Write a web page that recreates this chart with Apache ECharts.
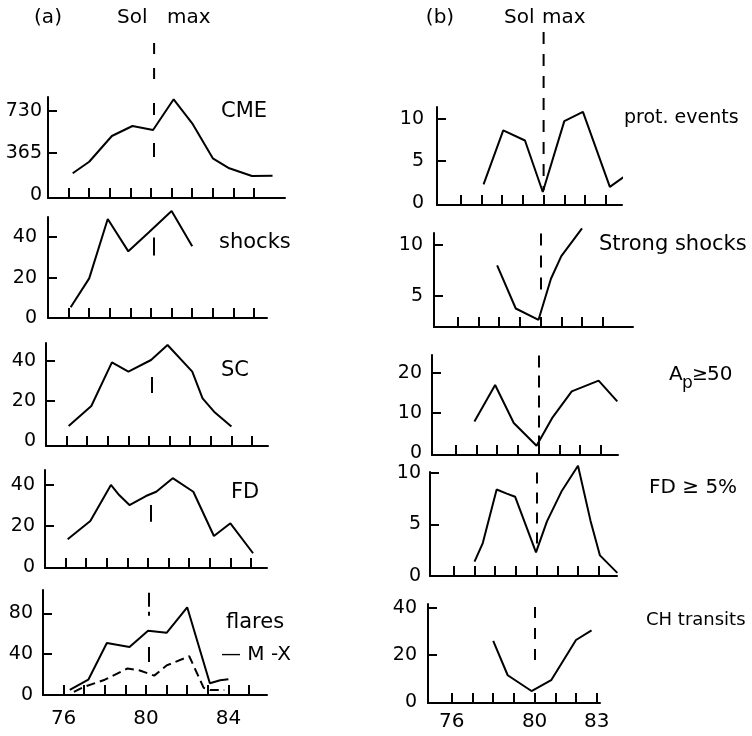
<!DOCTYPE html>
<html><head><meta charset="utf-8">
<script src="https://cdn.jsdelivr.net/npm/echarts@6/dist/echarts.min.js"></script>
<style>html,body{margin:0;padding:0;background:#fff}#c{width:752px;height:736px}</style>
</head><body><div id="c"></div>
<script>
// ---------- data (years, values) ----------
const cmeYears    = [76.2, 77.0, 78.1, 79.1, 80.1, 81.1, 82.0, 83.0, 83.8, 84.9, 85.9];
const cmeValues   = [189, 289, 513, 600, 565, 832, 623, 319, 232, 165, 168];
const shockYears  = [76.1, 77.0, 77.9, 78.9, 79.9, 81.0, 82.0];
const shockValues = [5.3, 19.6, 49, 33, 42.5, 53, 35.5];
const scYears     = [76.1, 77.2, 78.2, 79.0, 80.1, 80.9, 82.1, 82.6, 83.2, 84.0];
const scValues    = [7.5, 17.5, 39.3, 34.7, 40.5, 48, 34.7, 21.3, 14.2, 7.2];
const fdYears     = [76.1, 77.2, 78.2, 78.6, 79.1, 79.9, 80.4, 81.2, 82.2, 83.2, 84.0, 85.1];
const fdValues    = [13.5, 22.4, 40, 35.1, 30.2, 34.6, 36.7, 43.3, 36.7, 15.1, 21.3, 6.7];
const flareMYears  = [76.3, 77.2, 78.1, 79.2, 80.1, 81.0, 82.0, 83.1, 83.6, 84.0];
const flareMValues = [5, 15, 51, 47, 63, 61, 86, 11.5, 14.5, 15.5];
const flareXYears  = [76.5, 77.0, 78.0, 79.1, 79.7, 80.4, 81.0, 82.1, 82.8, 83.1, 83.8];
const flareXValues = [3, 8, 15, 26, 24, 19, 29, 38, 7, 5, 5];

const protYears    = [77.1, 78.05, 79.1, 79.96, 81.0, 81.9, 83.2, 84.0];
const protValues   = [2.2, 8.6, 7.4, 1.3, 9.7, 10.8, 1.9, 3.3];
const strongYears  = [77.9, 78.8, 79.9, 80.5, 81.0, 82.0];
const strongValues = [8.0, 3.8, 2.7, 6.7, 8.9, 11.6];
const apYears      = [76.9, 77.9, 78.8, 79.9, 80.65, 81.6, 82.9, 83.8];
const apValues     = [7.8, 16.9, 7.4, 1.7, 8.6, 15.3, 18.0, 12.8];
const fd5Years     = [77.0, 77.4, 78.07, 78.56, 78.96, 79.97, 80.5, 81.2, 82.0, 82.6, 83.06, 83.9];
const fd5Values    = [1.4, 3.2, 8.4, 8.0, 7.7, 2.3, 5.3, 8.2, 10.7, 5.4, 2.0, 0.3];
const chYears      = [78.0, 78.7, 79.85, 80.8, 82.0, 82.75];
const chValues     = [26, 11.4, 4.7, 9.3, 26.4, 30.5];

// tick positions / labels
const xTicksLeft   = [76, 77, 78, 79, 80, 81, 82, 83, 84, 85];
const xTicksRight  = [76, 77, 78, 79, 80, 81, 82, 83];
const xLabelsLeft  = [76, 80, 84];
const xLabelsRight = [76, 80, 83];
const solMaxLeft  = 80.15;
const solMaxRight = 80;

// ---------- layout ----------
const FONT = 'DejaVu Sans';
const panels = [
  {left:48, top:97, right:285, bottom:198, xMin:75, ppy:20.6, yMin:-26, yMax:852, yTicks:[365,730], yLabels:[0,365,730], lm:6,
   lines:[{x:cmeYears, y:cmeValues}], xTicks:xTicksLeft, sol:solMaxLeft, solSegs:[[799,695],[452,330]], solDash:'solid'},
  {left:48, top:217, right:267, bottom:318, xMin:75, ppy:20.6, yMin:0, yMax:50, yTicks:[20,40], yLabels:[0,20,40], lm:11,
   lines:[{x:shockYears, y:shockValues}], xTicks:xTicksLeft, sol:solMaxLeft, solSegs:[[39.9,31]], solDash:'solid'},
  {left:46, top:343, right:268, bottom:446, xMin:75, ppy:20.6, yMin:-2.5, yMax:49, yTicks:[20,40], yLabels:[0,20,40], lm:10,
   lines:[{x:scYears, y:scValues}], xTicks:xTicksLeft, sol:solMaxLeft, solSegs:[[32,24]], solDash:'solid'},
  {left:45, top:470, right:267, bottom:568, xMin:75, ppy:20.6, yMin:-0.5, yMax:47.3, yTicks:[20,40], yLabels:[0,20,40], lm:10,
   lines:[{x:fdYears, y:fdValues}], xTicks:xTicksLeft, sol:solMaxLeft, solSegs:[[30.2,22]], solDash:'solid'},
  {left:43, top:590, right:267, bottom:695, xMin:75, ppy:20.6, yMin:0, yMax:103, yTicks:[40,80], yLabels:[0,40,80], lm:10,
   lines:[{x:flareMYears, y:flareMValues}, {x:flareXYears, y:flareXValues, dash:[9,5]}], xTicks:xTicksLeft, xLabels:xLabelsLeft, xlm:14,
   sol:solMaxLeft, solSegs:[[100.3,86.5],[81.6,77.7],[47.2,32.4]], solDash:'solid'},

  {left:437, top:107, right:622, bottom:205, xMin:74.85, ppy:20.7, yMin:-0.24, yMax:11.37, yTicks:[5,10], yLabels:[0,5,10], lm:13,
   lines:[{x:protYears, y:protValues}], xTicks:xTicksRight, sol:null},
  {left:434, top:233, right:633, bottom:327, xMin:74.85, ppy:20.7, yMin:2.0, yMax:11.15, yTicks:[5,10], yLabels:[5,10], lm:11,
   lines:[{x:strongYears, y:strongValues}], xTicks:xTicksRight, sol:solMaxRight, solSegs:[[11.1,4.9]], solDash:[12,10]},
  {left:432, top:355, right:618, bottom:455, xMin:74.85, ppy:20.7, yMin:-0.6, yMax:24.4, yTicks:[10,20], yLabels:[0,10,20], lm:10,
   lines:[{x:apYears, y:apValues}], xTicks:xTicksRight, sol:solMaxRight, solSegs:[[24.3,1.4]], solDash:[12,8]},
  {left:430, top:472, right:617, bottom:576, xMin:74.85, ppy:20.7, yMin:0, yMax:10.1, yTicks:[5,10], yLabels:[0,5,10], lm:9,
   lines:[{x:fd5Years, y:fd5Values}], xTicks:xTicksRight, sol:solMaxRight, solSegs:[[10.05,3.0]], solDash:[11,9]},
  {left:428, top:604, right:600, bottom:703, xMin:74.85, ppy:20.7, yMin:-0.4, yMax:41.7, yTicks:[20,40], yLabels:[0,20,40], lm:11,
   lines:[{x:chYears, y:chValues}], xTicks:xTicksRight, xLabels:xLabelsRight, xlm:9, sol:solMaxRight, solSegs:[[40.4,17.1]], solDash:[11,10]}
];

const grids = [], xAxes = [], yAxes = [], series = [];
const black = '#000';
panels.forEach((p, i) => {
  const w = p.right - p.left, h = p.bottom - p.top;
  grids.push({left:p.left, top:p.top, width:w, height:h});
  xAxes.push({
    type:'value', gridIndex:i, min:p.xMin, max:p.xMin + w / p.ppy,
    axisLine:{show:true, onZero:false, lineStyle:{color:black, width:2}},
    axisTick:{show:true, inside:true, length:10, customValues:p.xTicks, lineStyle:{color:black, width:2}},
    axisLabel: p.xLabels ? {show:true, customValues:p.xLabels, margin:p.xlm, color:black, fontFamily:FONT, fontSize:20}
                         : {show:false},
    splitLine:{show:false}
  });
  yAxes.push({
    type:'value', gridIndex:i, min:p.yMin, max:p.yMax,
    axisLine:{show:true, onZero:false, lineStyle:{color:black, width:2}},
    axisTick:{show:true, inside:true, length:9, customValues:p.yTicks, lineStyle:{color:black, width:2}},
    axisLabel:{show:true, customValues:p.yLabels, margin:p.lm, color:black, fontFamily:FONT, fontSize:19},
    splitLine:{show:false}
  });
  p.lines.forEach((l, k) => {
    const s = {
      type:'line', xAxisIndex:i, yAxisIndex:i, symbol:'none', showSymbol:false, clip:false, silent:true,
      data:l.x.map((v, j) => [v, l.y[j]]),
      lineStyle:{color:black, width:2, type:l.dash || 'solid'}
    };
    if (k === 0 && p.sol !== null) {
      s.markLine = {
        silent:true, symbol:['none','none'], label:{show:false}, animation:false,
        lineStyle:{color:black, width:2, type:p.solDash},
        data:p.solSegs.map(sg => [{coord:[p.sol, sg[0]]}, {coord:[p.sol, sg[1]]}])
      };
    }
    series.push(s);
  });
});

// overlay grids for the Sol max dashed lines above the panels
const overlays = [
  {left:48, top:43, width:237, height:40, xMin:75, ppy:20.6, x:solMaxLeft, dash:[11,14]},
  {left:437, top:32, width:185, height:158, xMin:74.85, ppy:20.7, x:solMaxRight, dash:[12,10]}
];
overlays.forEach(o => {
  const gi = grids.length;
  grids.push({left:o.left, top:o.top, width:o.width, height:o.height});
  xAxes.push({type:'value', gridIndex:gi, min:o.xMin, max:o.xMin + o.width / o.ppy, show:false});
  yAxes.push({type:'value', gridIndex:gi, min:0, max:1, show:false});
  series.push({type:'line', xAxisIndex:gi, yAxisIndex:gi, symbol:'none', silent:true, clip:false,
    data:[[o.x, 1], [o.x, 0]], lineStyle:{color:black, width:2, type:o.dash}});
});

function txt(text, x, y, size, align) {
  return {type:'text', x:x, y:y, silent:true,
    style:{text:text, fill:black, font:size + 'px "' + FONT + '"', align:align || 'left', verticalAlign:'middle'}};
}
const graphics = [
  txt('(a)', 48, 18, 20, 'center'),
  txt('Sol', 117, 18, 20), txt('max', 167, 18, 20),
  txt('(b)', 440, 18, 20, 'center'),
  txt('Sol', 504, 18, 20), txt('max', 542, 18, 20),
  txt('CME', 221, 112, 21),
  txt('shocks', 219, 243, 21),
  txt('SC', 221, 371, 21),
  txt('FD', 231, 493, 21),
  txt('flares', 226, 623, 21),
  txt('— M -X', 221, 655, 20),
  txt('prot. events', 624, 118, 19),
  txt('Strong shocks', 599, 245, 21),
  txt('A', 669, 375, 20), txt('p', 682, 384, 17), txt('≥', 692, 375, 19), txt('50', 707, 375, 20),
  txt('FD ≥ 5%', 649, 488, 20),
  txt('CH transits', 646, 620, 18)
];

const chart = echarts.init(document.getElementById('c'), null, {renderer:'canvas'});
chart.setOption({
  animation:false,
  backgroundColor:'#fff',
  grid:grids, xAxis:xAxes, yAxis:yAxes, series:series,
  graphic:graphics
});
</script></body></html>
